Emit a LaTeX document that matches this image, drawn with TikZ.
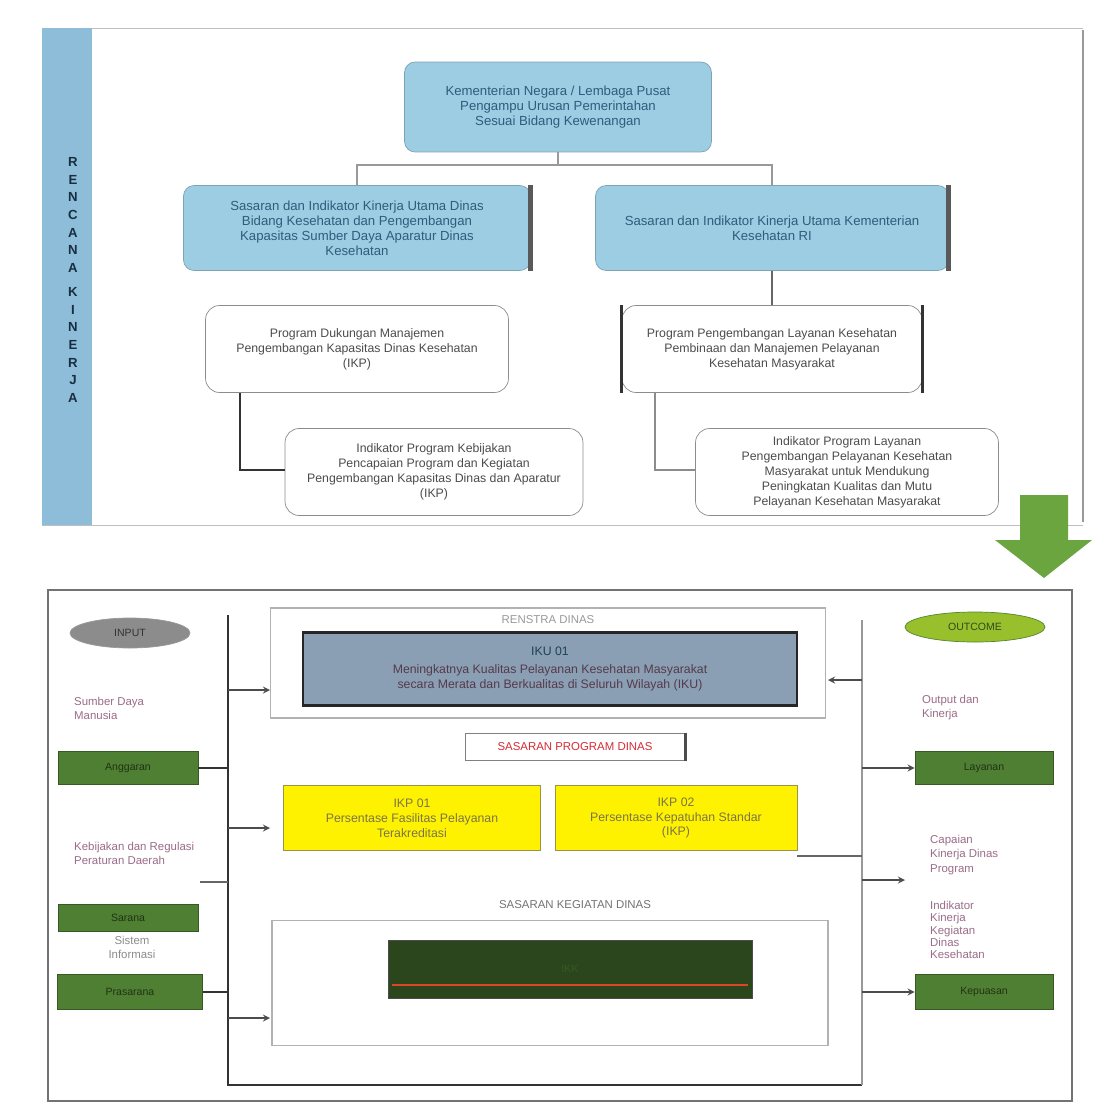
\documentclass[tikz,border=0pt]{standalone}
\usepackage{fontspec}
\setmainfont{Liberation Sans}
\usetikzlibrary{shapes.geometric, arrows, positioning}
\definecolor{boxblue}{HTML}{9CCDE2}
\definecolor{textblue}{HTML}{2E5D7E}
\definecolor{barblue}{HTML}{8EBDDA}
\definecolor{slate}{HTML}{8A9EB4}
\definecolor{leaf}{HTML}{4F7F33}
\definecolor{pinktext}{HTML}{9B6C88}
\definecolor{arrowgreen}{HTML}{6BA53F}
\tikzstyle{bluebox} = [rectangle, rounded corners=6pt,
text centered, align=center,
draw=boxblue!80!black,
fill=boxblue,
text=textblue,
font=\fontsize{7.5}{8.5}\selectfont]
\tikzstyle{plain} = [rectangle, rounded corners=8pt,
text centered, align=center,
draw=black!45,
fill=white,
text=black!70,
font=\fontsize{7}{8.5}\selectfont]
\tikzstyle{greenbox} = [rectangle,
minimum width=2.8cm,
minimum height=0.66cm,
draw=leaf!70!black,
fill=leaf,
text=leaf!40!black,
font=\fontsize{6}{7}\selectfont]
\tikzstyle{yellowbox} = [rectangle,
minimum height=1.3cm,
text centered, align=center,
draw=yellow!55!black,
fill=yellow,
text=yellow!40!black,
font=\fontsize{7}{8.5}\selectfont]
\tikzstyle{note} = [align=left, anchor=west,
text=pinktext,
font=\fontsize{6.5}{8}\selectfont]
\tikzstyle{line} = [thick,-]
\tikzstyle{thickline} = [line width=1.5pt,-,black!80]
\tikzstyle{arrow} = [thick,->,>=stealth]

\begin{document}
\begin{tikzpicture}[x=0.02cm, y=-0.02cm]
\useasboundingbox (0,0) rectangle (1094,1103);
\fill[white] (0,0) rectangle (1094,1103);

% upper part
\draw[black!25] (42,28) -- (1083,28);
\draw[black!40, line width=1pt] (1083,30) -- (1083,522);
\draw[black!25] (42,525) -- (1083,525);
\node (bar) [rectangle, fill=barblue, minimum width=1cm, minimum height=9.94cm, anchor=north west] at (42,28) {};
\node (barText) [align=center, font=\bfseries\fontsize{7.5}{10}\selectfont, text=textblue!50!black] at (73,280)
  {R\\E\\N\\C\\A\\N\\A\\[4pt]K\\I\\N\\E\\R\\J\\A};

\node (ministry) [bluebox, minimum width=6.14cm, minimum height=1.8cm] at (558,107)
  {Kementerian Negara / Lembaga Pusat\\Pengampu Urusan Pemerintahan\\Sesuai Bidang Kewenangan};
\node (goalLeft) [bluebox, minimum width=6.94cm, minimum height=1.7cm] at (357,228)
  {Sasaran dan Indikator Kinerja Utama Dinas\\Bidang Kesehatan dan Pengembangan\\Kapasitas Sumber Daya Aparatur Dinas\\Kesehatan};
\node (goalRight) [bluebox, minimum width=7.06cm, minimum height=1.7cm] at (772,228)
  {Sasaran dan Indikator Kinerja Utama Kementerian\\Kesehatan RI};
\draw[black!65, line width=3pt] (goalLeft.north east) -- (goalLeft.south east);
\draw[black!65, line width=3pt] (goalRight.north east) -- (goalRight.south east);

\node (progLeft) [plain, minimum width=6.06cm, minimum height=1.74cm] at (357,349)
  {Program Dukungan Manajemen\\Pengembangan Kapasitas Dinas Kesehatan\\(IKP)};
\node (progRight) [plain, minimum width=6.0cm, minimum height=1.74cm] at (772,349)
  {Program Pengembangan Layanan Kesehatan\\Pembinaan dan Manajemen Pelayanan\\Kesehatan Masyarakat};
\draw[black!80, line width=2pt] (progRight.north west) -- (progRight.south west);
\draw[black!80, line width=2pt] (progRight.north east) -- (progRight.south east);

\node (indLeft) [plain, minimum width=5.96cm, minimum height=1.74cm] at (434,472)
  {Indikator Program Kebijakan\\Pencapaian Program dan Kegiatan\\Pengembangan Kapasitas Dinas dan Aparatur\\(IKP)};
\node (indRight) [plain, minimum width=6.06cm, minimum height=1.74cm] at (847,472)
  {Indikator Program Layanan\\Pengembangan Pelayanan Kesehatan\\Masyarakat untuk Mendukung\\Peningkatan Kualitas dan Mutu\\Pelayanan Kesehatan Masyarakat};

\coordinate (split) at (558,165);
\draw [line, black!40] (ministry.south) -- (split);
\draw [line, black!40] (split) -| (goalLeft.north);
\draw [line, black!40] (split) -| (goalRight.north);
\draw [line, black!60] (goalRight.south) -- (progRight.north);
\coordinate (bendLeft) at (240,470);
\coordinate (bendRight) at (655,470);
\draw [thickline] (progLeft.south -| bendLeft) -- (bendLeft) -- (indLeft.west |- bendLeft);
\draw [line, black!45] (progRight.south -| bendRight) -- (bendRight) -- (indRight.west |- bendRight);

% big arrow
\fill[arrowgreen] (1020,495) -- (1068,495) -- (1068,540) -- (1092,540) -- (1044,578) -- (995,540) -- (1020,540) -- cycle;

% lower part
\draw[black!55, line width=1pt] (48,590) rectangle (1072,1101);
\coordinate (ltop) at (228,615);
\coordinate (lbot) at (228,1085);
\coordinate (rtop) at (862,620);
\coordinate (rbot) at (862,1085);
\draw [thickline] (ltop) -- (lbot) -- (rbot);
\draw [line, black!40] (rbot) -- (rtop);

\node (strat) [rectangle, draw=black!30, line width=1pt, minimum width=11.1cm, minimum height=2.2cm] at (548,663) {};
\node (stratLabel) [text=black!40, font=\fontsize{6.5}{7}\selectfont] at (548,620) {RENSTRA DINAS};
\node (iku) [rectangle, draw=black!85, line width=1.5pt, fill=slate, minimum width=9.88cm, minimum height=1.46cm,
  align=center, font=\fontsize{7}{8.5}\selectfont, text=pinktext!55!black] at (550,669)
  {\textcolor{textblue!70!black}{IKU 01}\\[2pt]Meningkatnya Kualitas Pelayanan Kesehatan Masyarakat\\secara Merata dan Berkualitas di Seluruh Wilayah (IKU)};
\node (progTag) [rectangle, draw=black!50, minimum width=4.4cm, minimum height=0.54cm,
  text=red!60!pinktext, font=\fontsize{6.5}{7}\selectfont] at (575,747) {SASARAN PROGRAM DINAS};
\draw[black!70, line width=1.5pt] (progTag.north east) -- (progTag.south east);
\node (ikpOne) [yellowbox, minimum width=5.14cm] at (412,818)
  {IKP 01\\Persentase Fasilitas Pelayanan\\Terakreditasi};
\node (ikpTwo) [yellowbox, minimum width=4.84cm] at (676,818)
  {IKP 02\\Persentase Kepatuhan Standar\\(IKP)};
\node (actLabel) [text=black!55, font=\fontsize{6.5}{7}\selectfont] at (575,905) {SASARAN KEGIATAN DINAS};
\node (act) [rectangle, draw=black!30, line width=1pt, minimum width=11.12cm, minimum height=2.5cm] at (550,983) {};
\node (ikk) [rectangle, draw=black!70, fill=leaf!55!black, minimum width=7.28cm, minimum height=1.16cm,
  text=leaf!70!black, font=\fontsize{6}{7}\selectfont, anchor=north] at (570,940) {IKK};
\draw[red!45!brown, line width=1.2pt] (392,985) -- (748,985);

% left column
\node (inputTag) [ellipse, draw=black!40, fill=black!45, minimum width=2.4cm, minimum height=0.6cm,
  text=black!80, font=\fontsize{6}{7}\selectfont] at (130,633) {INPUT};
\node (inNoteA) [note] at (68,708) {Sumber Daya\\Manusia};
\node (inA) [greenbox] at (128,768) {Anggaran};
\node (inNoteB) [note] at (68,853) {Kebijakan dan Regulasi\\Peraturan Daerah};
\node (inB) [greenbox, minimum height=0.54cm] at (128,918) {Sarana};
\node (inNoteC) [note, align=center, anchor=center, text=black!45] at (132,947) {Sistem\\Informasi};
\node (inC) [greenbox, minimum width=2.9cm, minimum height=0.7cm] at (130,992) {Prasarana};

% right column
\node (outTag) [ellipse, draw=arrowgreen!80!black, fill=arrowgreen!70!yellow, minimum width=2.8cm, minimum height=0.6cm,
  text=leaf!60!black, font=\fontsize{6}{7}\selectfont] at (975,627) {OUTCOME};
\node (outNoteA) [note] at (916,708) {Output dan\\Kinerja};
\node (outA) [greenbox, minimum width=2.76cm] at (984,768) {Layanan};
\node (outNoteB) [note] at (924,855) {Capaian\\Kinerja Dinas\\Program};
\node (outNoteC) [note, font=\fontsize{6.5}{7}\selectfont] at (924,930) {Indikator\\Kinerja\\Kegiatan\\Dinas\\Kesehatan};
\node (outC) [greenbox, minimum width=2.76cm, minimum height=0.7cm] at (984,992) {Kepuasan};

% connectors
\draw [thickline] (inA.east) -- (inA.east -| ltop);
\draw [thickline] (inC.east) -- (inC.east -| ltop);
\coordinate (inMid) at (200,882);
\draw [line, black!60] (inMid) -- (inMid -| ltop);
\coordinate (toStrat) at (270,690);
\coordinate (toIkp) at (270,828);
\coordinate (toAct) at (270,1018);
\draw [arrow, black!70] (toStrat -| ltop) -- (toStrat);
\draw [arrow, black!70] (toIkp -| ltop) -- (toIkp);
\draw [arrow, black!70] (toAct -| ltop) -- (toAct);
\coordinate (fromStrat) at (828,680);
\draw [arrow, black!70] (fromStrat -| rtop) -- (fromStrat);
\draw [line, black!60] (ikpTwo.south east) ++(0,5) -- ++(65,0);
\draw [arrow, black!70] (outA.west -| rtop) -- (outA.west);
\draw [arrow, black!70] (outC.west -| rtop) -- (outC.west);
\coordinate (toOutNote) at (905,880);
\draw [arrow, black!70] (toOutNote -| rtop) -- (toOutNote);
\end{tikzpicture}
\end{document}
